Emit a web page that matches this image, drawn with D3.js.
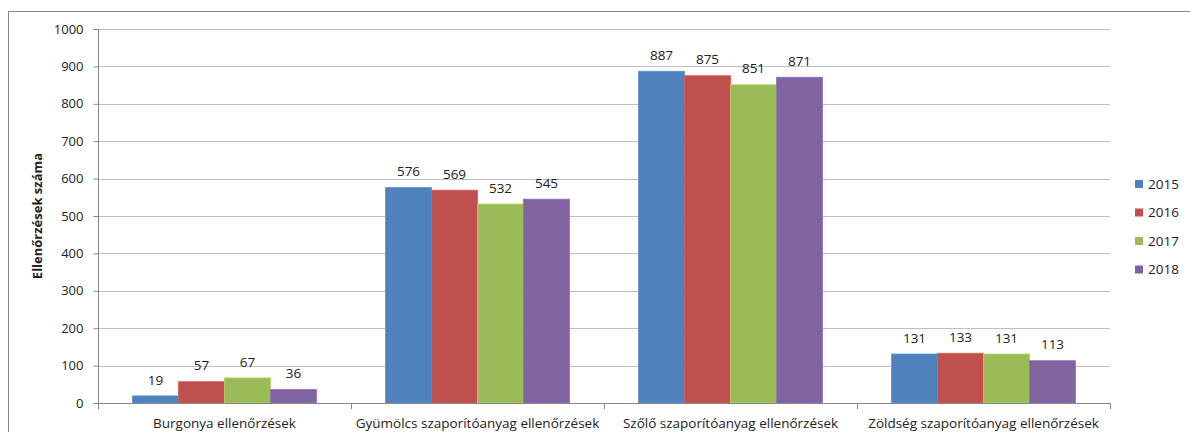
<!DOCTYPE html>
<html>
<head>
<meta charset="utf-8">
<script src="https://cdn.jsdelivr.net/npm/d3@7"></script>
<style>
  html, body { margin: 0; padding: 0; background: #fff; }
  svg { display: block; }
  text { font-family: "Open Sans", "Noto Sans", sans-serif; fill: #222; }
</style>
</head>
<body>
<svg id="chart" width="1190" height="432"></svg>
<script>
const categories = [
  "Burgonya ellenőrzések",
  "Gyümölcs szaporítóanyag ellenőrzések",
  "Szőlő szaporítóanyag ellenőrzések",
  "Zöldség szaporítóanyag ellenőrzések"
];
const years = ["2015", "2016", "2017", "2018"];
const values2015 = [19, 576, 887, 131];
const values2016 = [57, 569, 875, 133];
const values2017 = [67, 532, 851, 131];
const values2018 = [36, 545, 871, 113];
const yTicks = [0, 100, 200, 300, 400, 500, 600, 700, 800, 900, 1000];
const yTitle = "Ellenőrzések száma";
const colors = ["#4F81BD", "#C0504D", "#9BBB59", "#8064A2"];

const seriesValues = [values2015, values2016, values2017, values2018];

const svg = d3.select("#chart");
const mLeft = 98, mRight = 1110, mTop = 29, mBottom = 403;

// outer frame
svg.append("rect")
  .attr("x", 8.5).attr("y", 11.5)
  .attr("width", 1200).attr("height", 460)
  .attr("fill", "none").attr("stroke", "#878787").attr("stroke-width", 1);

const y = d3.scaleLinear().domain([0, 1000]).range([mBottom, mTop]);
const x0 = d3.scaleBand().domain(categories).range([mLeft, mRight]).paddingInner(0).paddingOuter(0);
const innerPad = 0.1364;
const x1 = d3.scaleBand().domain(years)
  .range([x0.bandwidth() * innerPad, x0.bandwidth() * (1 - innerPad)]).padding(0);

// gridlines
svg.append("g").selectAll("line").data(yTicks.filter(t => t > 0)).join("line")
  .attr("x1", mLeft).attr("x2", mRight)
  .attr("y1", d => Math.round(y(d)) + 0.5).attr("y2", d => Math.round(y(d)) + 0.5)
  .attr("stroke", "#BEBEBE").attr("stroke-width", 1);

// y axis
const yAxis = d3.axisLeft(y).tickValues(yTicks).tickSize(5).tickPadding(10).tickFormat(d3.format("d"));
const gy = svg.append("g").attr("transform", `translate(${mLeft + 0.5},0)`).call(yAxis);
gy.select(".domain").attr("stroke", "#878787").attr("d", `M0,${mTop}V${mBottom}`);
gy.selectAll(".tick line").attr("stroke", "#878787");
gy.selectAll(".tick text").style("font-size", "13px").attr("fill", "#222");

// bars
const groups = svg.append("g").selectAll("g").data(categories).join("g")
  .attr("transform", d => `translate(${x0(d)},0)`);
groups.selectAll("rect")
  .data((c, ci) => years.map((yr, si) => ({ yr, si, v: seriesValues[si][ci] })))
  .join("rect")
  .attr("x", d => x1(d.yr))
  .attr("width", x1.bandwidth())
  .attr("y", d => y(d.v))
  .attr("height", d => mBottom - y(d.v))
  .attr("fill", d => colors[d.si])
  .attr("stroke", d => d3.color(colors[d.si]).brighter(0.35))
  .attr("stroke-width", 0.8);

// labels
groups.selectAll("text.lbl")
  .data((c, ci) => years.map((yr, si) => ({ yr, si, v: seriesValues[si][ci] })))
  .join("text").attr("class", "lbl")
  .attr("x", d => x1(d.yr) + x1.bandwidth() / 2)
  .attr("y", d => y(d.v) - 16)
  .attr("dy", "0.35em")
  .attr("text-anchor", "middle")
  .style("font-size", "13.5px")
  .text(d => d.v);

// x axis
const xAxis = d3.axisBottom(x0).tickSize(0).tickPadding(15);
const gx = svg.append("g").attr("transform", `translate(0,${mBottom + 0.5})`).call(xAxis);
gx.select(".domain").attr("stroke", "#878787").attr("d", `M${mLeft},0H${mRight}`);
gx.selectAll(".tick text").style("font-size", "13.5px").attr("fill", "#222");
svg.append("g").selectAll("line").data(d3.range(categories.length + 1)).join("line")
  .attr("x1", i => Math.round(mLeft + i * x0.bandwidth()) + 0.5)
  .attr("x2", i => Math.round(mLeft + i * x0.bandwidth()) + 0.5)
  .attr("y1", mBottom).attr("y2", mBottom + 6)
  .attr("stroke", "#878787");

// y title
svg.append("text")
  .attr("transform", `translate(42,${(mTop + mBottom) / 2}) rotate(-90)`)
  .attr("text-anchor", "middle")
  .style("font-size", "13px").style("font-weight", "bold")
  .text(yTitle);

// legend
const lg = svg.append("g").selectAll("g").data(years).join("g")
  .attr("transform", (d, i) => `translate(1135,${184 + i * 28.5})`);
lg.append("rect").attr("x", 0).attr("y", -4).attr("width", 8).attr("height", 8)
  .attr("fill", (d, i) => colors[i]);
lg.append("text").attr("x", 13).attr("y", 0).attr("dy", "0.35em")
  .style("font-size", "13.5px").text(d => d);
</script>
</body>
</html>
